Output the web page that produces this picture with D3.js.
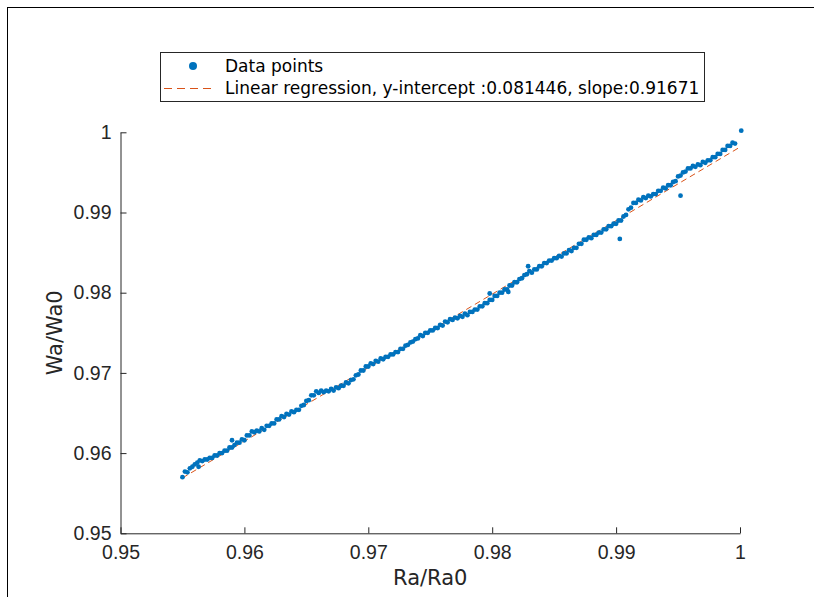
<!DOCTYPE html>
<meta charset="utf-8">
<style>
body { margin: 0; background: #fff; }
svg { display: block; font-family: "DejaVu Sans", sans-serif; }
.tick text { fill: #262626; font-size: 19.5px; }
.axis path, .axis line { stroke: #262626; }
.lbl { fill: #262626; font-size: 21px; }
.legend-text { fill: #000; font-size: 17px; }
</style>
<svg width="814" height="597"></svg>
<script src="https://cdn.jsdelivr.net/npm/d3@7"></script>
<script>

var intercept = 0.081446, slope = 0.91671;

var xTicks = [0.95, 0.96, 0.97, 0.98, 0.99, 1];
var yTicks = [0.95, 0.96, 0.97, 0.98, 0.99, 1];

// Ra/Ra0 values
var raX = [
 0.9550,0.9552,0.9554,0.9556,0.9558,0.9560,0.9562,0.9563,0.9564,0.9566,0.9568,0.9570,0.9572,0.9574,
 0.9576,0.9578,0.9580,0.9582,0.9584,0.9586,0.9588,0.9590,0.9590,0.9592,0.9594,0.9596,0.9598,0.9600,
 0.9602,0.9604,0.9606,0.9608,0.9610,0.9612,0.9614,0.9616,0.9618,0.9620,0.9622,0.9624,0.9626,0.9628,
 0.9630,0.9632,0.9634,0.9636,0.9638,0.9640,0.9642,0.9644,0.9646,0.9648,0.9650,0.9652,0.9654,0.9656,
 0.9658,0.9660,0.9662,0.9664,0.9666,0.9668,0.9670,0.9672,0.9674,0.9676,0.9678,0.9680,0.9682,0.9684,
 0.9686,0.9688,0.9690,0.9692,0.9694,0.9696,0.9698,0.9700,0.9702,0.9704,0.9706,0.9708,0.9710,0.9712,
 0.9714,0.9716,0.9718,0.9720,0.9722,0.9724,0.9726,0.9728,0.9730,0.9732,0.9734,0.9736,0.9738,0.9740,
 0.9742,0.9744,0.9746,0.9748,0.9750,0.9752,0.9754,0.9756,0.9758,0.9760,0.9762,0.9764,0.9766,0.9768,
 0.9770,0.9772,0.9774,0.9776,0.9778,0.9780,0.9782,0.9784,0.9786,0.9788,0.9790,0.9792,0.9794,0.9796,
 0.9798,0.9798,0.9800,0.9802,0.9804,0.9806,0.9808,0.9810,0.9812,0.9813,0.9814,0.9816,0.9818,0.9820,
 0.9822,0.9824,0.9826,0.9828,0.9829,0.9830,0.9832,0.9834,0.9836,0.9838,0.9840,0.9842,0.9844,0.9846,
 0.9848,0.9850,0.9852,0.9854,0.9856,0.9858,0.9860,0.9862,0.9864,0.9866,0.9868,0.9870,0.9872,0.9874,
 0.9876,0.9878,0.9880,0.9882,0.9884,0.9886,0.9888,0.9890,0.9892,0.9894,0.9896,0.9898,0.9900,0.9902,
 0.9903,0.9904,0.9906,0.9908,0.9910,0.9912,0.9914,0.9916,0.9918,0.9920,0.9922,0.9924,0.9926,0.9928,
 0.9930,0.9932,0.9934,0.9936,0.9938,0.9940,0.9942,0.9944,0.9946,0.9948,0.9950,0.9952,0.9952,0.9954,
 0.9956,0.9958,0.9960,0.9962,0.9964,0.9966,0.9968,0.9970,0.9972,0.9974,0.9976,0.9978,0.9980,0.9982,
 0.9984,0.9986,0.9988,0.9990,0.9992,0.9994,0.9996,1.0001
];

// Wa/Wa0 values
var waY = [
 0.9570,0.9577,0.9576,0.9581,0.9583,0.9586,0.9588,0.9583,0.9591,0.9590,0.9592,0.9592,0.9594,0.9594,
 0.9597,0.9597,0.9600,0.9600,0.9603,0.9603,0.9607,0.9607,0.9616,0.9610,0.9613,0.9613,0.9617,0.9616,
 0.9622,0.9622,0.9627,0.9626,0.9628,0.9627,0.9631,0.9629,0.9634,0.9634,0.9637,0.9637,0.9642,0.9642,
 0.9646,0.9645,0.9649,0.9648,0.9652,0.9651,0.9654,0.9654,0.9659,0.9660,0.9665,0.9666,0.9672,0.9672,
 0.9677,0.9675,0.9678,0.9676,0.9678,0.9677,0.9680,0.9678,0.9682,0.9681,0.9684,0.9684,0.9688,0.9687,
 0.9691,0.9692,0.9697,0.9698,0.9703,0.9703,0.9708,0.9708,0.9712,0.9711,0.9715,0.9714,0.9718,0.9717,
 0.9720,0.9720,0.9723,0.9723,0.9726,0.9726,0.9730,0.9730,0.9734,0.9735,0.9738,0.9739,0.9742,0.9743,
 0.9747,0.9746,0.9750,0.9750,0.9753,0.9753,0.9756,0.9756,0.9760,0.9759,0.9764,0.9763,0.9767,0.9766,
 0.9769,0.9768,0.9771,0.9770,0.9774,0.9772,0.9776,0.9776,0.9779,0.9779,0.9783,0.9783,0.9787,0.9787,
 0.9799,0.9791,0.9791,0.9796,0.9796,0.9800,0.9800,0.9804,0.9804,0.9801,0.9809,0.9809,0.9813,0.9813,
 0.9817,0.9818,0.9822,0.9823,0.9833,0.9827,0.9825,0.9829,0.9829,0.9833,0.9833,0.9837,0.9837,0.9840,
 0.9840,0.9843,0.9843,0.9846,0.9845,0.9849,0.9849,0.9853,0.9852,0.9856,0.9856,0.9861,0.9861,0.9866,
 0.9866,0.9869,0.9868,0.9872,0.9872,0.9875,0.9875,0.9879,0.9879,0.9883,0.9883,0.9886,0.9886,0.9890,
 0.9867,0.9890,0.9895,0.9897,0.9904,0.9906,0.9912,0.9912,0.9916,0.9915,0.9919,0.9918,0.9921,0.9920,
 0.9923,0.9923,0.9927,0.9927,0.9931,0.9930,0.9934,0.9934,0.9938,0.9939,0.9945,0.9946,0.9921,0.9950,
 0.9951,0.9955,0.9955,0.9958,0.9957,0.9960,0.9959,0.9963,0.9962,0.9965,0.9965,0.9969,0.9969,0.9973,
 0.9973,0.9978,0.9978,0.9983,0.9983,0.9987,0.9986,1.0002
];

var legendLabels = ["Data points", "Linear regression, y-intercept :0.081446, slope:0.91671"];

var svg = d3.select("svg");
var blue = "#0072BD", orange = "#D95319", axisCol = "#262626";

// figure frame
svg.append("rect")
    .attr("x", 7.5).attr("y", 7.5)
    .attr("width", 820).attr("height", 600)
    .attr("fill", "none").attr("stroke", "#000");

var plotL = 120.5, plotR = 740, plotT = 132.3, plotB = 533.3;

var x = d3.scaleLinear().domain([0.95, 1]).range([plotL, plotR]);
var y = d3.scaleLinear().domain([0.95, 1]).range([plotB, plotT]);

var xAxis = svg.append("g")
    .attr("class", "axis")
    .attr("transform", "translate(0," + plotB + ")")
    .call(d3.axisBottom(x).tickValues(xTicks).tickSizeInner(-6).tickSizeOuter(0).tickPadding(12)
        .tickFormat(d3.format("~g")));

var yAxis = svg.append("g")
    .attr("class", "axis")
    .attr("transform", "translate(" + plotL + ",0)")
    .call(d3.axisLeft(y).tickValues(yTicks).tickSizeInner(-6).tickSizeOuter(0).tickPadding(9)
        .tickFormat(d3.format("~g")));

// regression line over data range
var xMin = d3.min(raX), xMax = d3.max(raX);
svg.append("line")
    .attr("x1", x(xMin)).attr("y1", y(intercept + slope * xMin))
    .attr("x2", x(xMax)).attr("y2", y(intercept + slope * xMax))
    .attr("stroke", orange).attr("stroke-width", 1)
    .attr("stroke-dasharray", "6,4");

svg.append("g")
  .selectAll("circle")
  .data(raX)
  .enter().append("circle")
    .attr("cx", function(d) { return x(d); })
    .attr("cy", function(d, i) { return y(waY[i]); })
    .attr("r", 2.4)
    .attr("fill", blue);

// axis labels
svg.append("text").attr("class", "lbl")
    .attr("x", (plotL + plotR) / 2).attr("y", 585)
    .attr("text-anchor", "middle").text("Ra/Ra0");
svg.append("text").attr("class", "lbl")
    .attr("transform", "translate(62," + ((plotT + plotB) / 2) + ") rotate(-90)")
    .attr("text-anchor", "middle").text("Wa/Wa0");

// legend
var lg = svg.append("g");
lg.append("rect")
    .attr("x", 160.5).attr("y", 52.5).attr("width", 544).attr("height", 49)
    .attr("fill", "#fff").attr("stroke", axisCol);
lg.append("circle").attr("cx", 193).attr("cy", 66).attr("r", 4).attr("fill", blue);
lg.append("line")
    .attr("x1", 164).attr("x2", 216).attr("y1", 88.5).attr("y2", 88.5)
    .attr("stroke", orange).attr("stroke-dasharray", "8,5");
lg.selectAll("text.legend-text")
  .data(legendLabels)
  .enter().append("text")
    .attr("class", "legend-text")
    .attr("x", 225)
    .attr("y", function(d, i) { return 72 + i * 22; })
    .text(function(d) { return d; });
</script>
